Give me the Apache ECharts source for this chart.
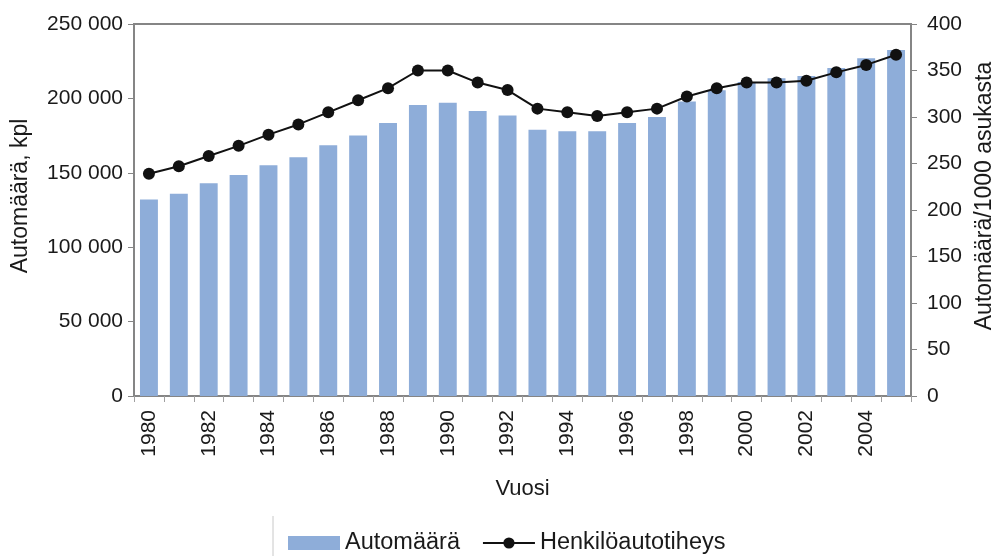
<!DOCTYPE html>
<html>
<head>
<meta charset="utf-8">
<script src="https://cdn.jsdelivr.net/npm/echarts@6/dist/echarts.min.js"></script>
<style>
  html, body { margin: 0; padding: 0; background: #fff; }
  #chart { width: 1004px; height: 556px; }
</style>
</head>
<body>
<div id="chart"></div>
<script>
// vuodet
const years = ['1980', '1981', '1982', '1983', '1984', '1985', '1986', '1987', '1988', '1989',
  '1990', '1991', '1992', '1993', '1994', '1995', '1996', '1997', '1998', '1999',
  '2000', '2001', '2002', '2003', '2004', '2005'];
// automäärä, kpl
const cars = [132000, 136000, 143000, 148500, 155000, 160500, 168500, 175000, 183500, 195500,
  197000, 191500, 188500, 179000, 178000, 178000, 183500, 187500, 198000, 205500,
  211000, 213500, 215000, 220500, 227000, 232500];
// autoa / 1000 asukasta
const density = [239, 247, 258, 269, 281, 292, 305, 318, 331, 350,
  350, 337, 329, 309, 305, 301, 305, 309, 322, 331,
  337, 337, 339, 348, 356, 367];

const font = 'Liberation Sans, Arial, sans-serif';
const chart = echarts.init(document.getElementById('chart'));

const option = {
  animation: false,
  textStyle: { fontFamily: font, color: '#1a1a1a' },
  grid: {
    left: 134,
    right: 89,
    top: 24,
    bottom: 160,
    show: true,
    borderColor: '#858585',
    borderWidth: 2
  },
  // legendan laatikon reuna näkyy vain vasemmalta
  graphic: [{
    type: 'line',
    shape: { x1: 273, y1: 516, x2: 273, y2: 556 },
    style: { stroke: '#c8c8c8', lineWidth: 1 }
  }],
  legend: {
    left: 283,
    top: 526,
    itemGap: 22,
    itemWidth: 52,
    itemHeight: 14,
    textStyle: { fontSize: 23.5, color: '#1a1a1a', fontFamily: font },
    data: [
      { name: 'Automäärä', icon: 'rect' },
      { name: 'Henkilöautotiheys' }
    ]
  },
  xAxis: {
    type: 'category',
    data: years,
    name: 'Vuosi',
    nameLocation: 'middle',
    nameGap: 82,
    nameTextStyle: { fontSize: 22, color: '#1a1a1a' },
    axisLine: { lineStyle: { color: '#858585', width: 2 } },
    axisTick: { show: true, interval: 0, length: 6, lineStyle: { color: '#a0a0a0' } },
    axisLabel: { interval: 1, rotate: 90, margin: 14, fontSize: 21, color: '#1a1a1a' },
    splitLine: { show: false }
  },
  yAxis: [
    {
      type: 'value',
      min: 0,
      max: 250000,
      interval: 50000,
      name: 'Automäärä, kpl',
      nameLocation: 'middle',
      nameRotate: 90,
      nameGap: 102,
      nameTextStyle: { fontSize: 23, color: '#1a1a1a', padding: [0, 0, 0, 28] },
      axisLine: { show: true, lineStyle: { color: '#858585', width: 2 } },
      axisTick: { show: true, length: 6, lineStyle: { color: '#858585' } },
      axisLabel: {
        fontSize: 21,
        color: '#1a1a1a',
        margin: 11,
        formatter: v => String(v).replace(/\B(?=(\d{3})+(?!\d))/g, ' ')
      },
      splitLine: { show: false }
    },
    {
      type: 'value',
      min: 0,
      max: 400,
      interval: 50,
      position: 'right',
      name: 'Automäärä/1000 asukasta',
      nameLocation: 'middle',
      nameRotate: 90,
      nameGap: 62,
      nameTextStyle: { fontSize: 23, color: '#1a1a1a', padding: [0, 0, 0, 28] },
      axisLine: { show: true, lineStyle: { color: '#858585', width: 2 } },
      axisTick: { show: true, length: 6, lineStyle: { color: '#858585' } },
      axisLabel: { fontSize: 21, color: '#1a1a1a', margin: 16 },
      splitLine: { show: false }
    }
  ],
  series: [
    {
      name: 'Automäärä',
      type: 'bar',
      yAxisIndex: 0,
      data: cars,
      barCategoryGap: '40%',
      itemStyle: { color: '#8eadd9' }
    },
    {
      name: 'Henkilöautotiheys',
      type: 'line',
      yAxisIndex: 1,
      data: density,
      symbol: 'circle',
      symbolSize: 12,
      lineStyle: { color: '#111', width: 2 },
      itemStyle: { color: '#111' }
    }
  ]
};

chart.setOption(option);
</script>
</body>
</html>
